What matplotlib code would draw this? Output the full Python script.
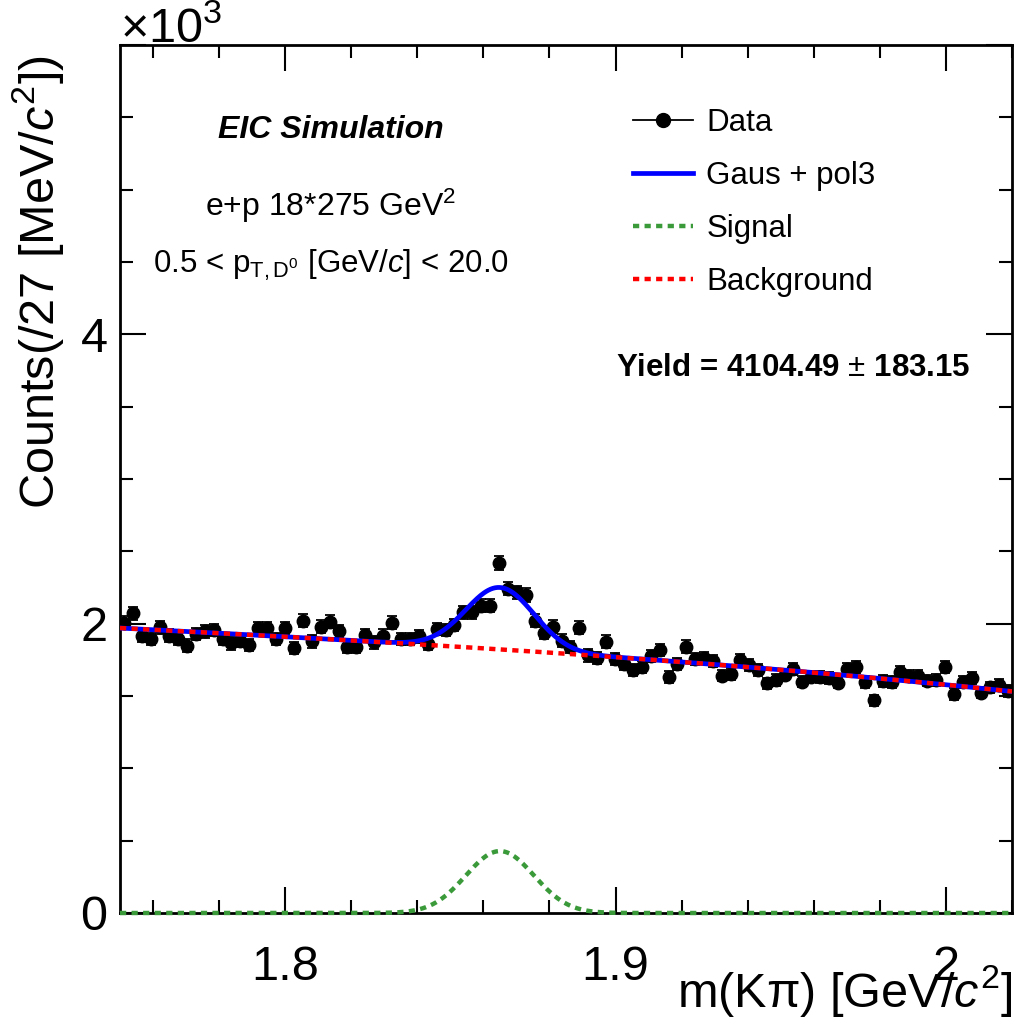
import numpy as np
import matplotlib
matplotlib.use("Agg")
import matplotlib.pyplot as plt
from matplotlib.lines import Line2D

plt.rcParams['font.family'] = ['Liberation Sans', 'DejaVu Sans']
plt.rcParams['mathtext.fontset'] = 'custom'
plt.rcParams['mathtext.rm'] = 'Liberation Sans'
plt.rcParams['mathtext.it'] = 'Liberation Sans:italic'
plt.rcParams['mathtext.bf'] = 'Liberation Sans:bold'

# ---------------- data (in units of 10^3 counts) ----------------
x_min, x_max, n_bins = 1.75, 2.02, 100
counts_k = [
    2.005, 2.071, 1.917, 1.894, 1.975, 1.917, 1.894, 1.848, 1.929, 1.947,
    1.956, 1.894, 1.864, 1.883, 1.853, 1.970, 1.970, 1.894, 1.970, 1.832,
    2.021, 1.878, 1.979, 2.014, 1.947, 1.837, 1.841, 1.922, 1.871, 1.917,
    2.005, 1.894, 1.894, 1.912, 1.860, 1.963, 1.956, 1.991, 2.078, 2.078,
    2.124, 2.124, 2.419, 2.243, 2.216, 2.200, 2.021, 1.936, 1.979, 1.883,
    1.840, 1.972, 1.780, 1.760, 1.875, 1.757, 1.722, 1.682, 1.699, 1.779,
    1.819, 1.632, 1.722, 1.842, 1.754, 1.760, 1.743, 1.641, 1.653, 1.750,
    1.717, 1.680, 1.588, 1.612, 1.648, 1.686, 1.600, 1.634, 1.630, 1.626,
    1.592, 1.688, 1.703, 1.595, 1.469, 1.602, 1.595, 1.664, 1.641, 1.641,
    1.607, 1.612, 1.703, 1.513, 1.595, 1.626, 1.523, 1.559, 1.579, 1.535,
]

# fit components
bkg_x = [1.75, 1.8166, 1.8468, 1.8863, 1.955, 2.0194]
bkg_y = [1.970, 1.888, 1.848, 1.791, 1.671, 1.533]
sig_amp, sig_mean, sig_sigma = 0.428, 1.865, 0.0103

yield_text = "Yield = 4104.49 "
yield_err_text = " 183.15"

# ---------------- figure ----------------
W, H = 1020, 1023
fig = plt.figure(figsize=(W / 100, H / 100), dpi=100)
L, R, T, B = 120, 1012, 45, 913
ax = fig.add_axes([L / W, 1 - B / H, (R - L) / W, (B - T) / H])

edges = np.linspace(x_min, x_max, n_bins + 1)
centers = 0.5 * (edges[:-1] + edges[1:])
y = np.array(counts_k)
yerr = np.sqrt(y * 1000.0) / 1000.0

ax.errorbar(centers, y, yerr=yerr, fmt='o', color='black', ms=9,
            elinewidth=1.3, capsize=3.5, capthick=1.3, zorder=3)

xf = np.linspace(x_min, x_max, 800)
coef = np.polyfit(bkg_x, bkg_y, 3)
bkg = np.polyval(coef, xf)
sig = sig_amp * np.exp(-0.5 * ((xf - sig_mean) / sig_sigma) ** 2)

ax.plot(xf, bkg + sig, color='#0000ff', lw=3.4, zorder=4)
ax.plot(xf, bkg, color='#ff0000', lw=3.2, ls=(0, (1.4, 1.2)), zorder=5)
ax.plot(xf, sig, color='#3a9a3a', lw=3.2, ls=(0, (1.4, 1.2)), zorder=5,
        clip_on=False)

ax.set_xlim(x_min, x_max)
ax.set_ylim(0, 6)
ax.set_xticks([1.8, 1.9, 2.0])
ax.set_xticklabels(['1.8', '1.9', '2'])
ax.set_xticks(np.arange(1.76, 2.021, 0.02), minor=True)
ax.set_yticks([0, 2, 4, 6])
ax.set_yticklabels(['0', '2', '4', ''])
ax.set_yticks(np.arange(0, 6.01, 0.5), minor=True)

ax.tick_params(which='both', direction='in', top=True, right=True, width=1.5)
ax.tick_params(which='major', length=18.5)
ax.tick_params(which='minor', length=9.3)
ax.tick_params(axis='x', which='major', labelsize=35, pad=23)
ax.tick_params(axis='y', which='major', labelsize=35, pad=9)
for s in ax.spines.values():
    s.set_linewidth(2.0)

ax.set_xlabel('m(Kπ) [GeV/$c^{2}$]', fontsize=35, loc='right')
ax.xaxis.set_label_coords(1.0, -0.058)
ax.set_ylabel(r'Counts(/27 [MeV/$c^{2}$])', fontsize=35, loc='top')
ax.yaxis.set_label_coords(-0.06, 0.988)

fig.text(L / W, 1 - 42 / H, r'×10$^{3}$', fontsize=35, ha='left', va='baseline')

# ---------------- texts ----------------
cx = (331 - L) / (R - L)
ax.text(cx, (B - 138) / (B - T), 'EIC Simulation', transform=ax.transAxes,
        ha='center', va='baseline', fontsize=23, fontweight='bold', fontstyle='italic')
ax.text(cx, (B - 216) / (B - T), r'e+p 18*275 GeV$^{2}$', transform=ax.transAxes,
        ha='center', va='baseline', fontsize=23)
ax.text(cx, (B - 273) / (B - T), r'0.5 < p$_{\mathrm{T,D^{0}}}$ [GeV/$c$] < 20.0',
        transform=ax.transAxes, ha='center', va='baseline', fontsize=22.5)

ax.text((616 - L) / (R - L), (B - 376) / (B - T),
        yield_text + r'$\pm$' + yield_err_text,
        transform=ax.transAxes, ha='left', va='baseline', fontsize=22.5, fontweight='bold')

handles = [
    Line2D([], [], color='black', marker='o', ms=10, lw=1.3),
    Line2D([], [], color='#0000ff', lw=3.4),
    Line2D([], [], color='#3a9a3a', lw=3.2, ls=(0, (1.4, 1.2))),
    Line2D([], [], color='#ff0000', lw=3.2, ls=(0, (1.4, 1.2))),
]
labels = ['Data', 'Gaus + pol3', 'Signal', 'Background']
ax.legend(handles, labels, loc='upper left',
          bbox_to_anchor=((633 - L) / (R - L), (B - 108) / (B - T)),
          frameon=False, fontsize=22.5, handlelength=1.92, handletextpad=0.42,
          labelspacing=0.74, borderpad=0, borderaxespad=0, numpoints=1)

fig.savefig('out.png', dpi=100)
